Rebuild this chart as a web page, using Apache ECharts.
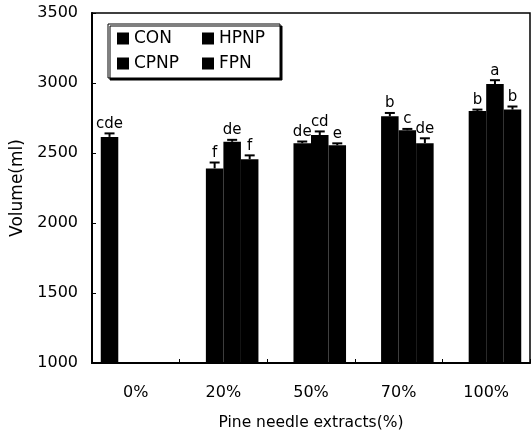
<!DOCTYPE html>
<html>
<head>
<meta charset="utf-8">
<script src="https://cdn.jsdelivr.net/npm/echarts@6/dist/echarts.min.js"></script>
<style>
html,body{margin:0;padding:0;background:#fff;}
#c{width:531px;height:430px;}
</style>
</head>
<body>
<div id="c"></div>
<script>
const categories = ['0%', '20%', '50%', '70%', '100%'];
const seriesNames = ['CON', 'HPNP', 'CPNP', 'FPN'];
const yTicks = [1000, 1500, 2000, 2500, 3000, 3500];

const conValues  = [2615, null, null, null, null];
const hpnpValues = [null, 2390, 2570, 2762, 2800];
const cpnpValues = [null, 2580, 2628, 2662, 2992];
const fpnValues  = [null, 2455, 2555, 2570, 2810];

const conErr  = [25, null, null, null, null];
const hpnpErr = [null, 42, 12, 24, 10];
const cpnpErr = [null, 14, 26, 10, 28];
const fpnErr  = [null, 28, 14, 35, 22];

const conLetters  = ['cde', '', '', '', ''];
const hpnpLetters = ['', 'f', 'de', 'b', 'b'];
const cpnpLetters = ['', 'de', 'cd', 'c', 'a'];
const fpnLetters  = ['', 'f', 'e', 'de', 'b'];

const allValues = [conValues, hpnpValues, cpnpValues, fpnValues];
const allErr = [conErr, hpnpErr, cpnpErr, fpnErr];
const allLetters = [conLetters, hpnpLetters, cpnpLetters, fpnLetters];

const FONT = 'DejaVu Sans';
const nSeries = seriesNames.length;
const catGap = 0.2;

const series = [];
seriesNames.forEach((name, k) => {
  series.push({
    name: name,
    type: 'bar',
    data: allValues[k].map(v => v == null ? '-' : v),
    barGap: '0%',
    barCategoryGap: (catGap * 100) + '%',
    itemStyle: { color: '#000' },
    silent: true
  });
});
seriesNames.forEach((name, k) => {
  const data = [];
  allValues[k].forEach((v, i) => {
    if (v != null) data.push([i, v, allErr[k][i], allLetters[k][i]]);
  });
  series.push({
    name: 'err_' + name,
    type: 'custom',
    encode: { x: 0, y: 1 },
    z: 5,
    silent: true,
    data: data,
    renderItem: function (params, api) {
      const ci = api.value(0);
      const v = api.value(1);
      const e = api.value(2);
      const letter = data[params.dataIndex][3];
      const base = api.coord([ci, v]);
      const band = api.size([1, 0])[0];
      const barW = band * (1 - catGap) / nSeries;
      const cx = base[0] + (k - (nSeries - 1) / 2) * barW;
      const yTop = api.coord([ci, v + e])[1];
      const capHalf = 5;
      return {
        type: 'group',
        children: [
          { type: 'line', shape: { x1: cx, y1: base[1], x2: cx, y2: yTop }, style: { stroke: '#000', lineWidth: 2 } },
          { type: 'line', shape: { x1: cx - capHalf, y1: yTop, x2: cx + capHalf, y2: yTop }, style: { stroke: '#000', lineWidth: 2 } },
          { type: 'text', x: cx, y: yTop - 2, style: { text: letter, fill: '#000', font: '15px "DejaVu Sans"', align: 'center', verticalAlign: 'bottom' } }
        ]
      };
    }
  });
});

const chart = echarts.init(document.getElementById('c'), null, { renderer: 'canvas' });
chart.setOption({
  animation: false,
  backgroundColor: '#fff',
  textStyle: { fontFamily: FONT, color: '#000' },
  grid: {
    left: 92, top: 13, right: 1, bottom: 67,
    containLabel: false,
    outerBoundsMode: 'none',
    show: true, borderColor: '#000', borderWidth: 1.5, backgroundColor: 'transparent'
  },
  legend: {
    data: seriesNames,
    orient: 'horizontal',
    left: 108, top: 24,
    width: 170,
    padding: [6, 1, 6, 9],
    itemGap: 8,
    itemWidth: 12, itemHeight: 12,
    itemTextGap: 4,
    icon: 'rect',
    backgroundColor: '#fff',
    borderColor: '#000',
    borderWidth: 1,
    shadowColor: '#000',
    shadowBlur: 0,
    shadowOffsetX: 2,
    shadowOffsetY: 2,
    selectedMode: false,
    itemStyle: { color: '#000' },
    textStyle: { fontFamily: FONT, fontSize: 17, color: '#000', width: 60, lineHeight: 16 }
  },
  xAxis: {
    type: 'category',
    data: categories,
    name: 'Pine needle extracts(%)',
    nameLocation: 'middle',
    nameGap: 52,
    nameTextStyle: { fontFamily: FONT, fontSize: 15.5, color: '#000' },
    axisLine: { lineStyle: { color: '#000', width: 2 } },
    axisTick: { show: true, inside: true, length: 4, alignWithLabel: false, lineStyle: { color: '#000', width: 1 } },
    axisLabel: { fontFamily: FONT, fontSize: 16, color: '#000', margin: 22 },
    splitLine: { show: false }
  },
  yAxis: {
    type: 'value',
    min: yTicks[0],
    max: yTicks[yTicks.length - 1],
    interval: yTicks[1] - yTicks[0],
    name: 'Volume(ml)',
    nameLocation: 'middle',
    nameGap: 63,
    nameRotate: 90,
    nameTextStyle: { fontFamily: FONT, fontSize: 17, color: '#000' },
    axisLine: { show: true, lineStyle: { color: '#000', width: 2 } },
    axisTick: { show: true, inside: true, length: 4, lineStyle: { color: '#000', width: 1 } },
    axisLabel: { fontFamily: FONT, fontSize: 16, color: '#000', margin: 14, formatter: v => String(v) },
    splitLine: { show: false }
  },
  series: series
});
</script>
</body>
</html>
